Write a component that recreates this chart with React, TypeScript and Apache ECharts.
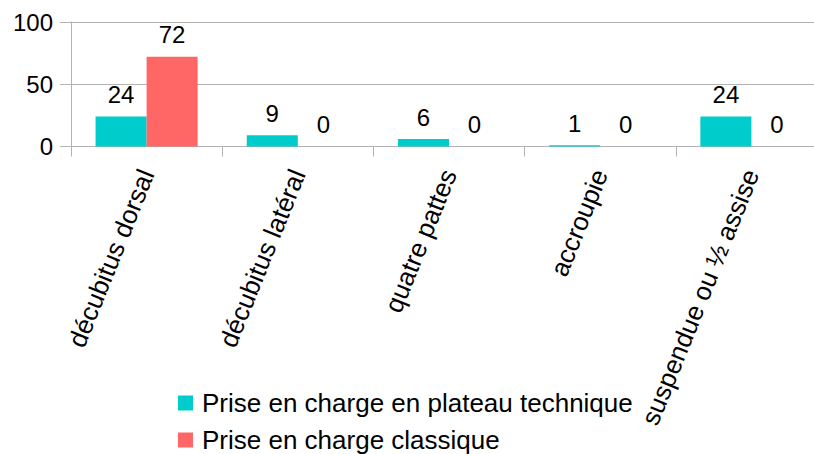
import React, { useEffect, useRef } from "react";
import * as echarts from "echarts";

const categories = [
  "décubitus dorsal",
  "décubitus latéral",
  "quatre pattes",
  "accroupie",
  "suspendue ou ½ assise",
];
const seriesNames = ["Prise en charge en plateau technique", "Prise en charge classique"];
const plateauValues = [24, 9, 6, 1, 24];
const classiqueValues = [72, 0, 0, 0, 0];
const yTicks = { min: 0, max: 100, interval: 50 };

const FONT = "'Liberation Sans', Arial, sans-serif";
const GRAY = "#b3b3b3";

export default function App() {
  const ref = useRef<HTMLDivElement>(null);
  useEffect(() => {
    if (!ref.current) return;
    const chart = echarts.init(ref.current, undefined, { renderer: "svg" });
    const labelStyle = {
      show: true,
      position: "top" as const,
      distance: 10,
      fontSize: 24,
      color: "#000",
      fontFamily: FONT,
    };
    const legendBase = {
      orient: "horizontal" as const,
      left: 178,
      padding: 0,
      itemWidth: 15,
      itemHeight: 15,
      icon: "rect",
      textStyle: { fontSize: 26, color: "#000", fontFamily: FONT, padding: [0, 0, 0, 4] },
    };
    chart.setOption({
      animation: false,
      textStyle: { fontFamily: FONT },
      grid: { left: 71, top: 22, width: 756, height: 124.5, containLabel: false },
      legend: [
        { ...legendBase, top: 390, data: [seriesNames[0]] },
        { ...legendBase, top: 427, data: [seriesNames[1]] },
      ],
      xAxis: {
        type: "category",
        data: categories,
        axisLine: { show: true, lineStyle: { color: GRAY, width: 1 } },
        axisTick: { show: true, length: 10, alignWithLabel: false, lineStyle: { color: GRAY } },
        axisLabel: {
          interval: 0,
          rotate: 68,
          margin: 24,
          padding: [18, 0, 0, 0],
          fontSize: 26,
          color: "#000",
          fontFamily: FONT,
        },
      },
      yAxis: {
        type: "value",
        min: yTicks.min,
        max: yTicks.max,
        interval: yTicks.interval,
        axisLine: { show: true, lineStyle: { color: GRAY, width: 1 } },
        axisTick: { show: true, length: 11, lineStyle: { color: GRAY } },
        splitLine: { show: true, lineStyle: { color: GRAY, width: 1 } },
        axisLabel: { margin: 18, fontSize: 24, color: "#000", fontFamily: FONT },
      },
      series: [
        {
          name: seriesNames[0],
          type: "bar",
          data: plateauValues,
          itemStyle: { color: "#00cccc" },
          barGap: "0%",
          barCategoryGap: "32.5%",
          label: labelStyle,
        },
        {
          name: seriesNames[1],
          type: "bar",
          data: classiqueValues,
          itemStyle: { color: "#ff6666" },
          barGap: "0%",
          barCategoryGap: "32.5%",
          label: labelStyle,
        },
      ],
    });
    return () => chart.dispose();
  }, []);
  return (
    <div
      style={{
        position: "fixed",
        left: 0,
        top: 0,
        width: 814,
        height: 454,
        overflow: "hidden",
        background: "#fff",
      }}
    >
      <div ref={ref} style={{ width: 840, height: 454 }} />
    </div>
  );
}
